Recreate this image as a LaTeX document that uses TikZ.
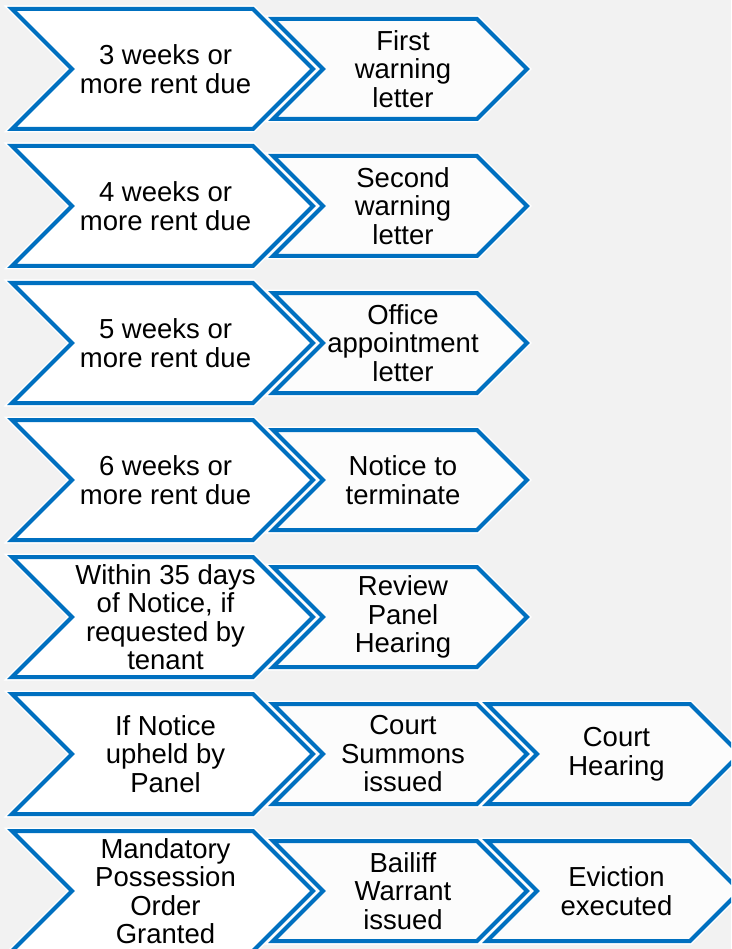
\documentclass[tikz,border=0pt]{standalone}
\usepackage{fontspec}
\setmainfont{Liberation Sans}
\definecolor{stepblue}{HTML}{0070C0}
\definecolor{pagegray}{HTML}{F2F2F2}
\definecolor{softwhite}{HTML}{FCFCFC}
\tikzset{
	% chevron outline: thin white halo under the blue line
	chev halo/.style={draw=white,line width=7pt,line join=miter},
	chev line/.style={draw=stepblue,line width=4pt,line join=miter},
	chev text/.style={align=center,inner sep=0pt,font=\fontsize{27.5}{28.5}\selectfont}
}
\begin{document}
\begin{tikzpicture}[x=1pt,y=-1pt]
	% macro for one chevron: name, left x, corner x, centre y, half height, fill, text
	\newcommand{\chev}[7]{
		\path[chev halo] (#2,#4-#5) -- (#3,#4-#5) -- (#3+#5,#4) -- (#3,#4+#5) -- (#2,#4+#5) -- (#2+#5,#4) -- cycle;
		\path[chev line,fill=#6] (#2,#4-#5) -- (#3,#4-#5) -- (#3+#5,#4) -- (#3,#4+#5) -- (#2,#4+#5) -- (#2+#5,#4) -- cycle;
		\node[chev text] (#1) at ({(#2+#3+#5)/2+3},#4) {#7};
	}
	
	\useasboundingbox (0,0) rectangle (731,949);
	\fill[pagegray] (0,0) rectangle (731,949);
	\clip (0,0) rectangle (731,949);
	
	% one row per stage: trigger on the left, action on the right
	\foreach \r/\due/\act in {
		0/{3 weeks or\\more rent due}/{First\\warning\\letter},
		1/{4 weeks or\\more rent due}/{Second\\warning\\letter},
		2/{5 weeks or\\more rent due}/{Office\\appointment\\letter},
		3/{6 weeks or\\more rent due}/{Notice to\\terminate},
		4/{Within 35 days\\of Notice, if\\requested by\\tenant}/{Review\\Panel\\Hearing},
		5/{If Notice\\upheld by\\Panel}/{Court\\Summons\\issued},
		6/{Mandatory\\Possession\\Order\\Granted}/{Bailiff\\Warrant\\issued}}{
		\pgfmathsetmacro\c{69+137*\r}
		\chev{due-\r}{12}{253}{\c}{60}{white}{\due}
		\chev{act-\r}{273}{477}{\c}{50}{softwhite}{\act}
	}
	
	% third step on the last two rows
	\chev{next-5}{487}{690}{754}{50}{softwhite}{Court\\Hearing}
	\chev{next-6}{487}{690}{891}{50}{softwhite}{Eviction\\executed}
\end{tikzpicture}
\end{document}
